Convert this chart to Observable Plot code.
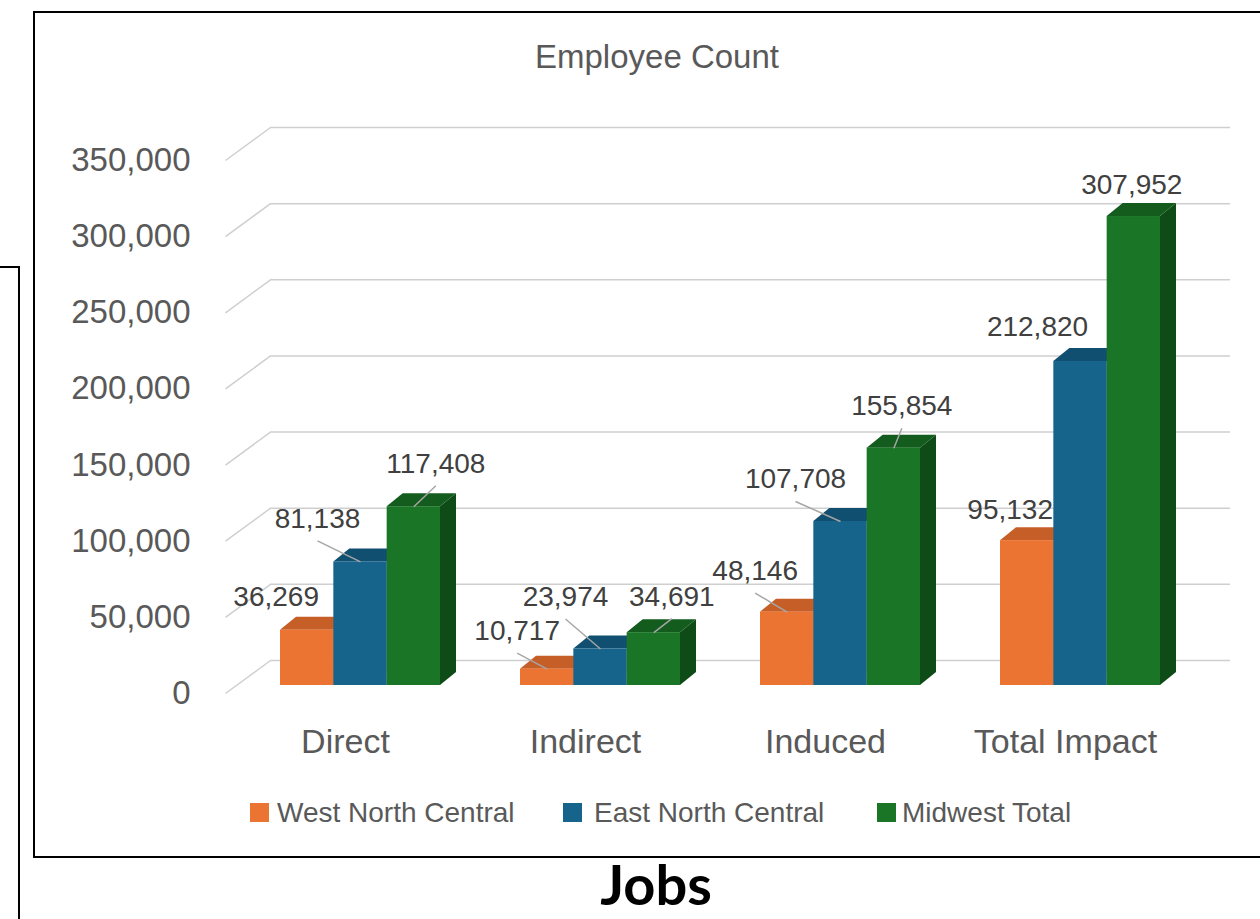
<!DOCTYPE html>
<html>
<head>
<meta charset="utf-8">
<script src="https://cdn.jsdelivr.net/npm/d3@7"></script>
<script src="https://cdn.jsdelivr.net/npm/@observablehq/plot@0.6"></script>
<style>
  html, body { margin: 0; padding: 0; background: #fff; }
  #page { position: relative; width: 1260px; height: 919px; overflow: hidden; font-family: "Liberation Sans", Arial, sans-serif; }
  .abs { position: absolute; }
  #frame { left: 33px; top: 11px; width: 1300px; height: 847px; border: 2px solid #000; box-sizing: border-box; }
  #leftbox { left: -2px; top: 266px; width: 22px; height: 700px; border: 2px solid #000; border-left: none; box-sizing: border-box; }
  #title { left: 457px; width: 400px; top: 40px; text-align: center; font-size: 33px; line-height: 33px; color: #595959; }
  #chart { left: 0; top: 100px; }
  .sw { position: absolute; width: 19px; height: 19px; top: 803px; }
  .lt { position: absolute; top: 799px; font-size: 28px; line-height: 28px; color: #595959; white-space: nowrap; }
  #jobs { left: 456px; width: 400px; top: 862px; height: 44px; text-align: center; font-family: Lato, "Liberation Sans", sans-serif; font-weight: 700; font-size: 56px; line-height: 44px; color: #000; }
</style>
</head>
<body>
<div id="page">
  <div id="frame" class="abs"></div>
  <div id="leftbox" class="abs"></div>
  <div id="title" class="abs">Employee Count</div>
  <div id="chart" class="abs"></div>
  <div id="legend"></div>
  <div id="jobs" class="abs">Jobs</div>
</div>
<script>
// ---- data ----
const categories = ["Direct", "Indirect", "Induced", "Total Impact"];
const seriesNames = ["West North Central", "East North Central", "Midwest Total"];
const westNorthCentral = [36269, 10717, 48146, 95132];
const eastNorthCentral = [81138, 23974, 107708, 212820];
const midwestTotal = [117408, 34691, 155854, 307952];
const yTicks = [0, 50000, 100000, 150000, 200000, 250000, 300000, 350000];

// ---- styling / label placement (as placed in the original) ----
const frontColors = ["#EC7433", "#16648C", "#1A7526"];
const topColors = ["#C65E28", "#104F70", "#135C1D"];
const sideColors = ["#A94F1D", "#0D4361", "#0E4B16"];
const labelNudgeX = [[-31, -43, 22], [-30, -35, 18], [-32, -45, 8], [-17, -43, -2]];
const labelNudgeY = [[-33, -43, -43], [-38, -52, -36], [-41, -42, -42], [-31, -34, -32]];
const leaderShown = [[false, true, true], [true, true, true], [true, true, true], [false, false, false]];

// ---- layout ----
const W = 1260, H = 680;
const mL = 225, mR = 75, mT = 60, mB = 87;
const yMax = 350000;
const vpp = yMax / (H - mT - mB);          // value units per pixel
const upx = 4 / (W - mL - mR);             // x units per pixel
const barDX = 15, barDY = -8;              // bar plane offset (px)
const wallDX = 45, wallDY = -33;           // back wall offset (px)
const depthX = 16 * upx, depthY = 13 * vpp; // bar depth
const barW = 2 / 9;

const seriesValues = [westNorthCentral, eastNorthCentral, midwestTotal];
const rows = [];
categories.forEach((cat, i) => {
  seriesNames.forEach((s, j) => {
    const v = seriesValues[j][i];
    const left = i + 1 / 6 + j * barW;
    const right = left + barW;
    const xc = left + barW / 2;
    const lx = xc + labelNudgeX[i][j] * upx;
    const ly = v - labelNudgeY[i][j] * vpp;
    rows.push({i, j, cat, s, v, left, right, xc, lx, ly, leader: leaderShown[i][j], key: cat + "|" + s});
  });
});

const sideData = rows.flatMap(r => [
  {j: r.j, key: r.key, x: r.right, y1: 0, y2: r.v},
  {j: r.j, key: r.key, x: r.right + depthX, y1: depthY, y2: r.v + depthY}
]);
const topData = rows.flatMap(r => [
  {j: r.j, key: r.key, x: r.left, y1: r.v, y2: r.v},
  {j: r.j, key: r.key, x: r.left + depthX, y1: r.v, y2: r.v + depthY},
  {j: r.j, key: r.key, x: r.right, y1: r.v, y2: r.v + depthY},
  {j: r.j, key: r.key, x: r.right + depthX, y1: r.v + depthY, y2: r.v + depthY}
]);

const barMarks = [];
for (let j = 0; j < 3; j++) {
  barMarks.push(Plot.areaY(sideData.filter(d => d.j === j), {x: "x", y1: "y1", y2: "y2", z: "key", fill: sideColors[j], dx: barDX, dy: barDY}));
  barMarks.push(Plot.areaY(topData.filter(d => d.j === j), {x: "x", y1: "y1", y2: "y2", z: "key", fill: topColors[j], dx: barDX, dy: barDY}));
  barMarks.push(Plot.rect(rows.filter(d => d.j === j), {x1: "left", x2: "right", y1: 0, y2: "v", fill: frontColors[j], dx: barDX, dy: barDY}));
}

const gridColor = "#cfcfcf";
const chart = Plot.plot({
  width: W, height: H,
  marginLeft: mL, marginRight: mR, marginTop: mT, marginBottom: mB,
  x: {domain: [0, 4], range: [mL, W - mR]},
  y: {domain: [0, yMax], range: [H - mB, mT]},
  style: {fontFamily: "'Liberation Sans', Arial, sans-serif", color: "#595959", background: "transparent", overflow: "visible"},
  marks: [
    Plot.ruleY(yTicks, {x1: 0, x2: 4, dx: wallDX, dy: wallDY, stroke: gridColor, strokeWidth: 1.5}),
    Plot.link(yTicks, {x1: 0, y1: d => d, x2: wallDX * upx, y2: d => d - wallDY * vpp, stroke: gridColor, strokeWidth: 1.5}),
    ...barMarks,
    Plot.link(rows.filter(d => d.leader), {x1: "xc", y1: "v", x2: "lx", y2: d => d.ly - 22 * vpp, stroke: "#a6a6a6", strokeWidth: 1.5, dx: barDX, dy: barDY}),
    Plot.text(rows, {x: "lx", y: "ly", text: d => d3.format(",")(d.v), fontSize: 28, fill: "#404040", textAnchor: "middle", lineAnchor: "middle", dx: barDX, dy: barDY}),
    Plot.axisY(yTicks, {tickSize: 0, tickPadding: 35, fontSize: 33, tickFormat: d3.format(","), label: null}),
    Plot.axisX([0.5, 1.5, 2.5, 3.5], {tickSize: 0, tickPadding: 35, fontSize: 34, tickFormat: d => categories[Math.floor(d)], label: null})
  ]
});
document.getElementById("chart").appendChild(chart);

// legend
const legend = document.getElementById("legend");
const swX = [250, 563, 877], txX = [277, 594, 902];
seriesNames.forEach((s, j) => {
  const sw = document.createElement("div");
  sw.className = "sw"; sw.style.left = swX[j] + "px"; sw.style.background = frontColors[j];
  const t = document.createElement("div");
  t.className = "lt"; t.style.left = txX[j] + "px"; t.textContent = s;
  legend.appendChild(sw); legend.appendChild(t);
});
</script>
</body>
</html>
